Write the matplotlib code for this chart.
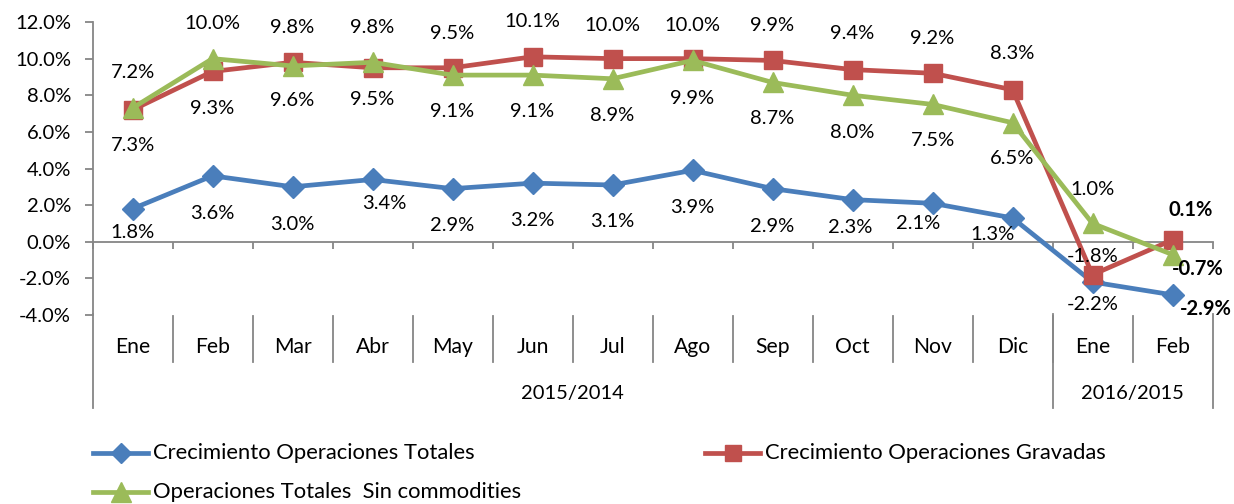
import matplotlib
matplotlib.use("Agg")
import matplotlib.pyplot as plt
from matplotlib.lines import Line2D
from matplotlib.transforms import blended_transform_factory
from matplotlib.ticker import FuncFormatter, FixedLocator

plt.rcParams['font.family'] = ['Lato', 'DejaVu Sans']

# ---------------- data ----------------
months = ["Ene", "Feb", "Mar", "Abr", "May", "Jun", "Jul", "Ago", "Sep", "Oct", "Nov", "Dic", "Ene", "Feb"]
groups = ["2015/2014", "2016/2015"]
group_sizes = [12, 2]

totales = [1.8, 3.6, 3.0, 3.4, 2.9, 3.2, 3.1, 3.9, 2.9, 2.3, 2.1, 1.3, -2.2, -2.9]
gravadas = [7.2, 9.3, 9.8, 9.5, 9.5, 10.1, 10.0, 10.0, 9.9, 9.4, 9.2, 8.3, -1.8, 0.1]
sin_commod = [7.3, 10.0, 9.6, 9.8, 9.1, 9.1, 8.9, 9.9, 8.7, 8.0, 7.5, 6.5, 1.0, -0.7]

names = ["Crecimiento Operaciones Totales",
         "Crecimiento Operaciones Gravadas",
         "Operaciones Totales  Sin commodities"]

# ---------------- style ----------------
W, H = 1234, 504
colors = ["#4A7EBB", "#C0504D", "#9BBB59"]
markers = ["D", "s", "^"]
msizes = [11, 13, 15]
FS = 14.5
FS_CAT = 15.2
FS_LEG = 15.8
GRAY = "#868686"

# label offsets in pixels (dx, dy) per point
off_tot = [(0, -24), (0, -38), (0, -38), (12, -24), (0, -37), (0, -37), (0, -37),
           (0, -37), (0, -38), (-2, -28), (-14, -20), (-20, -17), (0, -22), (33, -14)]
off_grav = [(0, 37), (0, -37), (0, 35), (0, -32), (0, 34), (0, 35), (0, 33),
            (0, 33), (0, 35), (0, 36), (0, 35), (0, 36), (0, 18), (18, 30)]
off_sin = [(0, -37), (0, 35), (0, -35), (0, 35), (0, -36), (0, -36), (0, -37),
           (0, -38), (0, -36), (0, -37), (0, -36), (0, -36), (0, 34), (25, -14)]
bold_last = True

fig = plt.figure(figsize=(W / 100, H / 100), dpi=100)
left_px, right_px, top_px, bot_px = 92.5, 1212.5, 22, 315
ax = fig.add_axes([left_px / W, 1 - bot_px / H, (right_px - left_px) / W, (bot_px - top_px) / H])
ax.set_xlim(0, len(months))
ax.set_ylim(-4, 12)

xs = [i + 0.5 for i in range(len(months))]
series = [totales, gravadas, sin_commod]
offsets = [off_tot, off_grav, off_sin]
for k, (vals, offs) in enumerate(zip(series, offsets)):
    ax.plot(xs, vals, color=colors[k], lw=3.4, marker=markers[k], ms=msizes[k],
            markeredgecolor=colors[k], zorder=3 + k, clip_on=False)
    for i, (x, v) in enumerate(zip(xs, vals)):
        dx, dy = offs[i]
        ax.annotate(f"{v:.1f}%", (x, v), xytext=(dx, dy), textcoords="offset pixels",
                    ha="center", va="center", fontsize=FS,
                    fontweight="bold" if (bold_last and i == len(vals) - 1) else "normal",
                    color="black", zorder=10)

# axes styling
for s in ["top", "right"]:
    ax.spines[s].set_visible(False)
ax.spines["left"].set_color(GRAY)
ax.spines["left"].set_linewidth(1.3)
ax.spines["bottom"].set_position(("data", 0))
ax.spines["bottom"].set_color(GRAY)
ax.spines["bottom"].set_linewidth(1.3)
ax.set_yticks(range(-4, 13, 2))
ax.yaxis.set_major_formatter(FuncFormatter(lambda v, p: f"{v:.1f}%"))
ax.tick_params(axis="y", direction="out", length=5.5, width=1.3, color=GRAY,
               labelsize=FS, pad=10)
ax.xaxis.set_major_locator(FixedLocator(range(0, len(months) + 1)))
ax.tick_params(axis="x", direction="out", length=5, width=1.3, color=GRAY,
               labelbottom=False)
ax.set_facecolor("none")

# multi-level category axis below plot
tr = blended_transform_factory(ax.transData, fig.transFigure)
fy = lambda px: 1 - px / H
for i, m in enumerate(months):
    ax.text(i + 0.5, fy(347), m, transform=tr, ha="center", va="center", fontsize=FS_CAT)
for b in range(1, len(months)):
    ax.add_line(Line2D([b, b], [fy(316), fy(362)], transform=tr, color=GRAY, lw=1.3, clip_on=False))
start = 0
bounds = [0]
for g, n in zip(groups, group_sizes):
    ax.text(start + n / 2, fy(393), g, transform=tr, ha="center", va="center", fontsize=FS)
    start += n
    bounds.append(start)
for b in bounds:
    ax.add_line(Line2D([b, b], [fy(314), fy(408)], transform=tr, color=GRAY, lw=1.3, clip_on=False))

# legend (manual)
leg_pos = [(93, 453), (705, 453), (93, 492)]
for k, (lx, ly) in enumerate(leg_pos):
    fig.add_artist(Line2D([lx / W, (lx + 55) / W], [fy(ly), fy(ly)], color=colors[k], lw=3.4))
    fig.add_artist(Line2D([(lx + 27.5) / W], [fy(ly)], color=colors[k], marker=markers[k],
                          ms=msizes[k] - 1, markeredgecolor=colors[k], lw=0))
    fig.text((lx + 60) / W, fy(ly), names[k], ha="left", va="center", fontsize=FS_LEG)

fig.savefig("out.png", dpi=100)
